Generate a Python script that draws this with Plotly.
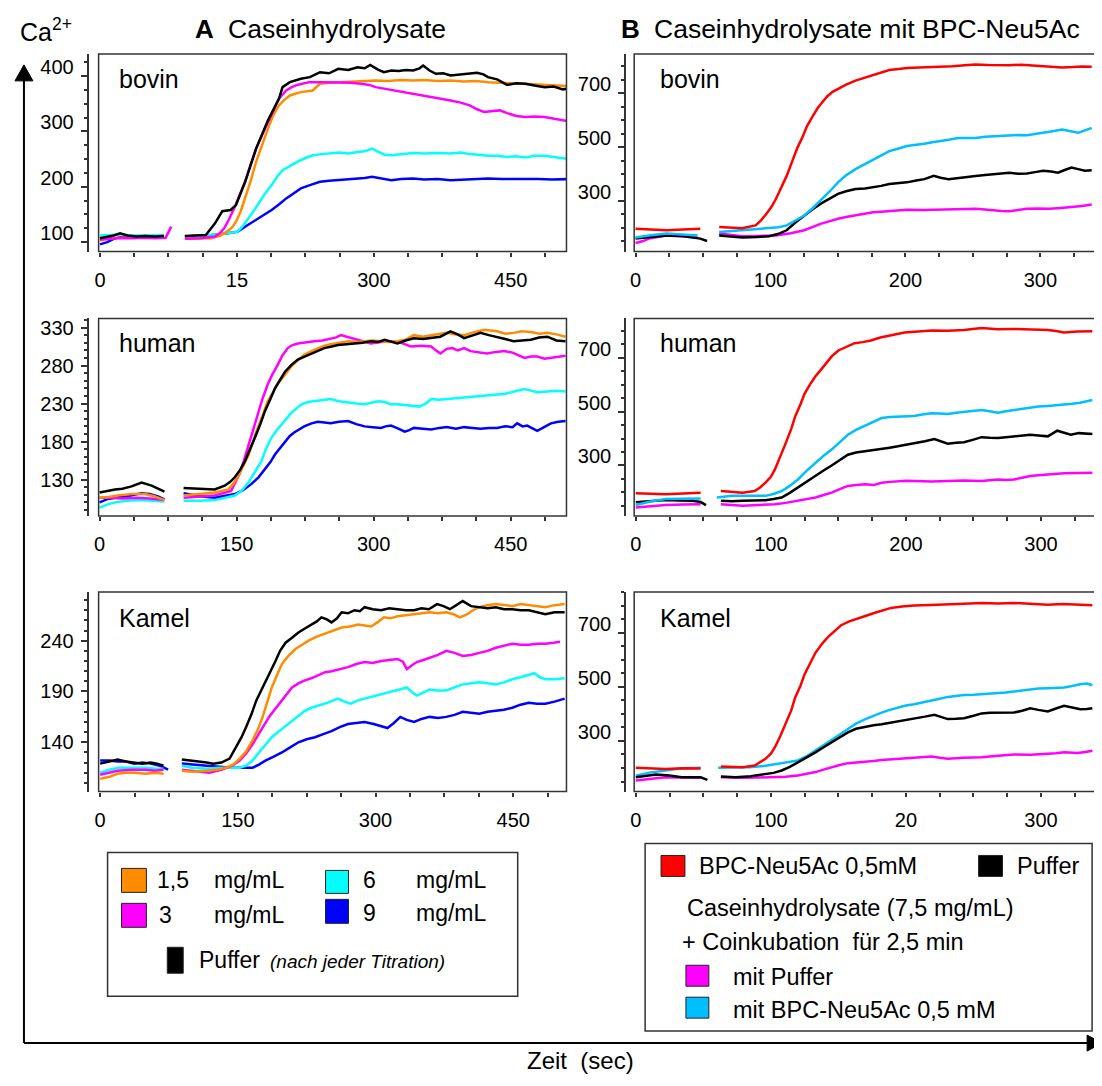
import plotly.graph_objects as go

W, H = 1102, 1086
OX, OY = 8, 8  # page body margin compensation
FONT = "Liberation Sans, Arial, Helvetica, sans-serif"

# ---------------- colours ----------------
ORANGE = "#FF8C00"
MAGENTA = "#FF00FF"
CYAN = "#00FFFF"
BLUE = "#0000FF"
BLACK = "#000000"
RED = "#FF0000"
SKY = "#00BFFF"

# ---------------- tick labels ----------------
A_XTICKS = [0, 150, 300, 450]
A_XTEXT_BOV = ["0", "15", "300", "450"]
A_XTEXT = ["0", "150", "300", "450"]
B_XTICKS = [0, 100, 200, 300]
B_XTEXT = ["0", "100", "200", "300"]
B_XTEXT_KAM = ["0", "100", "20", "300"]
A_BOV_YTICKS = [100, 200, 300, 400]
A_HUM_YTICKS = [130, 180, 230, 280, 330]
A_KAM_YTICKS = [140, 190, 240]
B_YTICKS = [300, 500, 700]

# ================= Panel A bovin =================
A_BOV_BLK_T1 = [0, 8, 15, 22, 30, 40, 50, 60, 70]
A_BOV_BLK_V1 = [107, 109, 112, 116, 112, 110, 111, 110, 111]
A_BOV_BLK_T2 = [93, 105, 116, 126, 134, 143, 149, 159, 171, 184, 196, 200, 208, 220, 230, 241, 251, 261, 272, 282,
                290, 296, 304, 311, 319, 327, 335, 343, 350, 354, 361, 368, 376, 384, 395, 405, 413, 420, 425, 435,
                446, 456, 466, 476, 487, 497, 507, 515]
A_BOV_BLK_V2 = [111, 112, 113, 134, 156, 158, 167, 209, 269, 320, 359, 380, 389, 395, 398, 407, 405, 413, 411, 416,
                414, 420, 412, 407, 410, 409, 411, 410, 414, 419, 410, 404, 405, 401, 403, 404, 406, 403, 398, 394,
                384, 387, 386, 383, 380, 381, 376, 378]
A_BOV_BLU_T1 = [0, 8, 15, 22, 35, 50, 60, 70]
A_BOV_BLU_V1 = [96, 100, 106, 109, 110, 109, 110, 111]
A_BOV_BLU_T2 = [93, 110, 122, 140, 151, 161, 171, 180, 188, 196, 204, 212, 220, 230, 241, 251, 261, 272, 282, 290,
                298, 305, 312, 319, 330, 343, 355, 370, 384, 398, 412, 425, 440, 455, 466, 480, 495, 505, 515]
A_BOV_BLU_V2 = [110, 111, 113, 116, 119, 130, 140, 149, 158, 168, 179, 188, 197, 203, 209, 211, 212, 213, 215, 216,
                218, 216, 213, 212, 214, 215, 213, 214, 212, 213, 214, 215, 214, 214, 215, 214, 213, 214, 214]
A_BOV_CYN_T1 = [0, 10, 22, 35, 50, 60, 70]
A_BOV_CYN_V1 = [112, 113, 114, 112, 112, 113, 113]
A_BOV_CYN_T2 = [93, 110, 122, 140, 151, 157, 163, 169, 175, 181, 188, 194, 200, 208, 216, 225, 233, 243, 253, 262,
                272, 282, 290, 298, 305, 312, 319, 330, 343, 355, 370, 384, 395, 405, 415, 425, 435, 446, 456, 466,
                476, 487, 497, 507, 515]
A_BOV_CYN_V2 = [110, 111, 113, 116, 119, 130, 143, 158, 173, 188, 203, 218, 230, 238, 245, 252, 257, 259, 261, 262,
                260, 263, 264, 269, 263, 258, 257, 259, 261, 260, 261, 260, 262, 259, 257, 256, 256, 254, 255, 253,
                256, 256, 254, 252, 250]
A_BOV_MAG_T1 = [0, 10, 20, 35, 50, 60, 70, 72, 78]
A_BOV_MAG_V1 = [105, 106, 107, 107, 108, 107, 108, 108, 128]
A_BOV_MAG_T2 = [93, 110, 126, 131, 136, 141, 147, 153, 159, 165, 171, 178, 184, 190, 196, 204, 210, 216, 229, 245,
                261, 275, 286, 295, 302, 312, 323, 333, 343, 353, 364, 374, 384, 395, 405, 413, 421, 430, 438, 446,
                456, 466, 476, 487, 497, 507, 515]
A_BOV_MAG_V2 = [106, 107, 110, 116, 125, 140, 161, 185, 209, 240, 269, 295, 317, 340, 359, 374, 380, 384, 389, 389,
                389, 388, 386, 384, 380, 377, 374, 372, 368, 365, 362, 359, 356, 352, 347, 340, 335, 337, 338, 333,
                328, 326, 327, 326, 323, 320, 318]
A_BOV_ORG_T1 = [0, 10, 22, 35, 50, 70]
A_BOV_ORG_V1 = [103, 107, 108, 108, 109, 109]
A_BOV_ORG_T2 = [93, 110, 122, 132, 139, 145, 149, 154, 159, 165, 171, 178, 184, 190, 196, 202, 208, 214, 220, 233,
                241, 251, 261, 272, 282, 292, 302, 315, 330, 343, 355, 370, 384, 398, 412, 425, 440, 455, 466, 480,
                495, 505, 515]
A_BOV_ORG_V2 = [106, 106, 107, 112, 119, 127, 137, 155, 179, 210, 245, 278, 305, 330, 347, 357, 365, 368, 371, 374,
                386, 388, 389, 390, 390, 391, 392, 391, 393, 392, 393, 391, 392, 390, 391, 389, 388, 387, 386, 385,
                384, 383, 382]

# ================= Panel A human =================
A_HUM_BLK_T1 = [0, 8, 17, 25, 35, 46, 52, 57, 64, 71]
A_HUM_BLK_V1 = [113, 115, 117, 118, 121, 126, 124, 122, 118, 114]
A_HUM_BLK_T2 = [92, 110, 126, 137, 143, 148, 154, 159, 165, 170, 176, 181, 187, 192, 198, 203, 210, 217, 225, 232,
                239, 246, 254, 261, 270, 279, 288, 297, 305, 312, 319, 326, 335, 344, 354, 363, 373, 384, 392, 399,
                408, 417, 426, 435, 444, 453, 462, 472, 481, 490, 500, 510]
A_HUM_BLK_V2 = [119, 118, 117, 122, 127, 133, 143, 154, 170, 185, 203, 220, 236, 250, 262, 272, 281, 288, 292, 296,
                300, 303, 305, 307, 308, 309, 310, 312, 311, 314, 312, 309, 313, 316, 315, 316, 318, 325, 321, 316,
                320, 323, 320, 318, 315, 312, 313, 314, 317, 318, 313, 312]
A_HUM_ORG_T1 = [0, 10, 20, 35, 50, 60, 71]
A_HUM_ORG_V1 = [106, 107, 109, 111, 111, 108, 103]
A_HUM_ORG_T2 = [92, 110, 126, 141, 146, 152, 157, 163, 168, 173, 179, 184, 190, 195, 203, 210, 217, 224, 232, 239,
                246, 253, 262, 272, 281, 290, 299, 308, 317, 326, 335, 344, 354, 363, 372, 380, 390, 399, 410, 421,
                428, 435, 444, 453, 462, 472, 481, 490, 500, 510]
A_HUM_ORG_V2 = [109, 111, 113, 117, 124, 135, 148, 162, 180, 198, 216, 233, 245, 256, 268, 279, 287, 294, 299, 303,
                306, 308, 310, 312, 311, 312, 313, 312, 311, 312, 314, 320, 318, 320, 322, 323, 321, 320, 324, 327,
                326, 325, 322, 323, 325, 324, 322, 323, 321, 318]
A_HUM_MAG_T1 = [0, 10, 25, 40, 55, 71]
A_HUM_MAG_V1 = [106, 106, 105, 106, 105, 103]
A_HUM_MAG_T2 = [92, 110, 126, 144, 148, 153, 158, 163, 168, 173, 178, 184, 189, 195, 200, 206, 211, 217, 226, 235,
                244, 253, 259, 264, 270, 279, 288, 297, 308, 319, 330, 341, 352, 363, 368, 373, 380, 386, 392, 399,
                406, 415, 424, 434, 443, 452, 460, 465, 472, 479, 487, 494, 502, 510]
A_HUM_MAG_V2 = [106, 108, 109, 115, 124, 137, 155, 175, 195, 215, 235, 255, 268, 281, 293, 303, 307, 309, 311, 312,
                313, 315, 317, 320, 318, 314, 311, 309, 311, 312, 310, 305, 306, 305, 300, 296, 302, 303, 300, 303,
                299, 297, 296, 298, 299, 297, 293, 290, 292, 292, 289, 290, 292, 293]
A_HUM_CYN_T1 = [0, 8, 17, 30, 45, 60, 71]
A_HUM_CYN_V1 = [93, 97, 100, 102, 103, 102, 101]
A_HUM_CYN_T2 = [92, 110, 126, 148, 156, 163, 170, 177, 182, 188, 194, 199, 205, 210, 216, 221, 228, 235, 244, 253,
                262, 272, 281, 290, 299, 305, 312, 319, 326, 335, 344, 350, 357, 363, 372, 380, 390, 399, 408, 417,
                426, 435, 444, 456, 465, 472, 479, 490, 500, 510]
A_HUM_CYN_V2 = [102, 102, 103, 109, 116, 126, 140, 154, 170, 185, 195, 202, 210, 218, 224, 229, 232, 233, 235, 236,
                233, 231, 230, 229, 231, 233, 232, 229, 229, 228, 227, 226, 230, 236, 235, 236, 237, 238, 239, 240,
                241, 242, 243, 246, 249, 247, 245, 246, 247, 246]
A_HUM_BLU_T1 = [0, 8, 17, 30, 46, 55, 64, 71]
A_HUM_BLU_V1 = [100, 104, 106, 108, 112, 111, 108, 104]
A_HUM_BLU_T2 = [92, 110, 126, 148, 157, 166, 174, 181, 187, 192, 198, 203, 208, 213, 219, 224, 232, 239, 246, 253,
                262, 272, 281, 290, 299, 308, 313, 319, 327, 334, 339, 344, 354, 363, 372, 380, 390, 399, 408, 417,
                426, 435, 444, 452, 457, 463, 468, 474, 479, 485, 494, 502, 510]
A_HUM_BLU_V2 = [112, 108, 106, 111, 116, 124, 133, 143, 153, 163, 172, 181, 187, 192, 196, 200, 204, 206, 205, 204,
                206, 207, 203, 200, 199, 198, 200, 201, 197, 193, 195, 198, 197, 196, 198, 199, 197, 199, 198, 197,
                198, 198, 200, 199, 204, 200, 201, 197, 194, 198, 204, 206, 207]

# ================= Panel A Kamel =================
A_KAM_BLK_T1 = [0, 8, 19, 28, 37, 46, 55, 62, 69]
A_KAM_BLK_V1 = [119, 121, 123, 121, 120, 119, 120, 119, 117]
A_KAM_BLK_T2 = [89, 100, 109, 116, 123, 132, 141, 148, 154, 159, 165, 170, 175, 180, 186, 191, 196, 202, 209, 216,
                223, 230, 236, 241, 247, 252, 258, 263, 270, 277, 283, 288, 297, 306, 315, 324, 333, 342, 350, 358,
                367, 374, 381, 388, 395, 404, 413, 422, 431, 440, 449, 458, 467, 476, 485, 495, 506]
A_KAM_BLK_V2 = [123, 122, 121, 120, 119, 120, 124, 135, 145, 155, 168, 181, 190, 199, 210, 220, 230, 238, 243, 248,
                252, 256, 259, 263, 261, 258, 262, 268, 267, 270, 269, 273, 271, 270, 272, 271, 270, 270, 272, 271,
                276, 274, 271, 275, 279, 274, 273, 272, 273, 271, 271, 270, 270, 268, 266, 268, 268]
A_KAM_BLU_T1 = [0, 10, 19, 28, 37, 46, 55, 65, 74]
A_KAM_BLU_V1 = [122, 122, 121, 121, 119, 120, 119, 117, 113]
A_KAM_BLU_T2 = [89, 100, 116, 130, 144, 155, 166, 173, 180, 189, 198, 207, 216, 225, 234, 243, 252, 261, 270, 279,
                288, 298, 306, 313, 320, 327, 334, 342, 350, 359, 368, 377, 386, 395, 404, 413, 422, 431, 440, 449,
                458, 467, 476, 485, 495, 506]
A_KAM_BLU_V2 = [119, 118, 117, 116, 115, 115, 115, 118, 122, 126, 130, 135, 140, 143, 145, 148, 151, 155, 158, 159,
                160, 158, 156, 154, 159, 165, 162, 160, 163, 165, 164, 165, 167, 170, 169, 168, 170, 171, 172, 174,
                177, 179, 178, 178, 180, 183]
A_KAM_CYN_T1 = [0, 10, 20, 35, 50, 60, 69]
A_KAM_CYN_V1 = [110, 113, 115, 115, 115, 114, 114]
A_KAM_CYN_T2 = [89, 100, 116, 130, 145, 152, 159, 166, 173, 180, 187, 195, 202, 209, 216, 223, 230, 238, 248, 259,
                266, 273, 280, 288, 297, 306, 315, 324, 330, 334, 340, 345, 352, 359, 368, 377, 386, 395, 404, 413,
                422, 431, 440, 449, 458, 467, 473, 479, 485, 495, 506]
A_KAM_CYN_V2 = [117, 115, 114, 115, 115, 115, 117, 122, 130, 138, 145, 151, 156, 161, 166, 171, 174, 176, 179, 183,
                180, 178, 181, 183, 185, 187, 189, 191, 193, 194, 189, 186, 189, 192, 191, 191, 194, 197, 198, 199,
                198, 197, 199, 202, 204, 206, 208, 204, 202, 202, 203]
A_KAM_MAG_T1 = [0, 10, 19, 35, 50, 60, 69]
A_KAM_MAG_V1 = [108, 110, 112, 113, 113, 112, 113]
A_KAM_MAG_T2 = [89, 100, 108, 119, 132, 144, 152, 159, 166, 173, 179, 184, 190, 195, 202, 209, 216, 223, 230, 238,
                245, 252, 261, 270, 279, 288, 297, 306, 315, 324, 330, 334, 340, 345, 352, 359, 368, 377, 386, 395,
                404, 413, 422, 431, 440, 449, 458, 467, 476, 485, 494, 501]
A_KAM_MAG_V2 = [113, 112, 111, 110, 113, 117, 122, 129, 138, 148, 157, 165, 172, 178, 186, 194, 198, 201, 203, 206,
                209, 210, 212, 214, 217, 219, 218, 220, 221, 222, 219, 212, 216, 219, 221, 223, 226, 230, 228, 225,
                226, 228, 230, 233, 235, 237, 236, 236, 237, 237, 238, 239]
A_KAM_ORG_T1 = [0, 10, 19, 28, 37, 50, 60, 69]
A_KAM_ORG_V1 = [104, 106, 109, 110, 110, 109, 110, 109]
A_KAM_ORG_T2 = [89, 100, 116, 127, 137, 145, 152, 159, 166, 172, 177, 182, 187, 193, 198, 205, 213, 220, 227, 236,
                245, 254, 263, 272, 281, 288, 295, 302, 309, 316, 324, 333, 342, 350, 359, 368, 377, 385, 392, 400,
                406, 413, 422, 431, 440, 449, 458, 467, 476, 485, 495, 506]
A_KAM_ORG_V2 = [112, 111, 112, 113, 115, 118, 124, 131, 142, 153, 165, 180, 194, 207, 217, 225, 232, 236, 240, 244,
                247, 250, 253, 254, 256, 255, 254, 258, 263, 262, 264, 265, 266, 267, 268, 267, 268, 266, 263, 266,
                270, 273, 275, 276, 275, 274, 276, 275, 274, 273, 275, 276]

# ================= Panel B bovin =================
B_BOV_RED_T1 = [0, 10, 23, 35, 48]
B_BOV_RED_V1 = [197, 194, 191, 194, 197]
B_BOV_RED_T2 = [62, 70, 79, 89, 93, 97, 101, 104, 108, 112, 116, 120, 124, 127, 131, 135, 139, 142, 146, 150,
                156, 163, 170, 176, 182, 188, 195, 201, 210, 218, 226, 235, 244, 252, 261, 270, 277, 286, 294, 302,
                309, 316, 324, 331, 338]
B_BOV_RED_V2 = [203, 201, 199, 209, 228, 252, 280, 307, 350, 393, 446, 498, 540, 577, 612, 645, 670, 688, 705, 716,
                732, 747, 758, 767, 777, 786, 790, 794, 796, 797, 798, 800, 804, 807, 805, 803, 804, 806, 803, 802,
                799, 796, 797, 799, 798]
B_BOV_CYN_T1 = [0, 10, 23, 35, 46]
B_BOV_CYN_V1 = [164, 172, 179, 176, 172]
B_BOV_CYN_T2 = [62, 70, 79, 90, 99, 106, 112, 118, 125, 131, 137, 144, 150, 156, 163, 170, 176, 182, 188, 195,
                201, 208, 214, 220, 226, 233, 239, 246, 252, 259, 265, 271, 277, 284, 290, 296, 302, 309, 316, 322,
                328, 333, 338]
B_BOV_CYN_V2 = [185, 188, 191, 194, 197, 202, 209, 225, 246, 272, 301, 336, 369, 395, 418, 437, 455, 471, 485, 495,
                504, 509, 512, 518, 522, 528, 534, 533, 534, 538, 540, 541, 543, 545, 544, 548, 553, 559, 565, 560,
                553, 562, 571]
B_BOV_BLK_T1 = [0, 10, 23, 35, 43, 48, 53]
B_BOV_BLK_V1 = [160, 164, 172, 170, 164, 160, 151]
B_BOV_BLK_T2 = [62, 70, 79, 90, 99, 106, 112, 118, 125, 131, 137, 144, 150, 156, 163, 170, 176, 182, 188, 195,
                201, 208, 214, 221, 226, 232, 239, 246, 252, 259, 265, 271, 277, 284, 290, 296, 302, 308, 313, 318,
                323, 328, 333, 338]
B_BOV_BLK_V2 = [172, 168, 164, 166, 169, 178, 191, 218, 246, 268, 289, 308, 326, 336, 344, 346, 350, 356, 363, 366,
                369, 376, 381, 393, 386, 381, 386, 390, 393, 396, 399, 402, 405, 401, 402, 407, 412, 409, 405, 415,
                424, 418, 412, 414]
B_BOV_MAG_T1 = [0, 5, 10, 23, 35, 46]
B_BOV_MAG_V1 = [144, 150, 160, 172, 168, 164]
B_BOV_MAG_T2 = [62, 70, 79, 92, 104, 115, 125, 131, 137, 144, 150, 156, 163, 170, 176, 182, 188, 195, 201, 214,
                226, 239, 252, 259, 265, 271, 277, 284, 290, 298, 307, 315, 323, 331, 338]
B_BOV_MAG_V2 = [179, 174, 169, 170, 172, 180, 191, 203, 215, 225, 234, 240, 246, 252, 258, 260, 262, 265, 267, 266,
                267, 269, 271, 268, 265, 263, 262, 267, 271, 272, 271, 274, 277, 281, 287]

# ================= Panel B human =================
B_HUM_RED_T1 = [0, 10, 22, 35, 48]
B_HUM_RED_V1 = [197, 195, 193, 196, 199]
B_HUM_RED_T2 = [63, 71, 79, 88, 92, 96, 100, 103, 107, 111, 115, 118, 122, 125, 129, 133, 137, 140, 145, 150,
                156, 162, 168, 174, 181, 187, 193, 199, 209, 219, 231, 243, 256, 268, 280, 292, 305, 311, 317, 327,
                338]
B_HUM_RED_V2 = [205, 201, 199, 205, 218, 236, 258, 285, 332, 383, 435, 482, 528, 567, 601, 631, 655, 675, 705, 727,
                742, 754, 758, 764, 775, 782, 789, 794, 797, 801, 800, 803, 810, 806, 807, 805, 803, 799, 794, 797,
                798]
B_HUM_CYN_T1 = [0, 10, 22, 35, 48]
B_HUM_CYN_V1 = [153, 165, 175, 176, 177]
B_HUM_CYN_T2 = [60, 71, 84, 96, 102, 108, 114, 120, 126, 133, 139, 145, 151, 157, 163, 170, 176, 182, 188, 194,
                200, 206, 212, 219, 225, 231, 237, 243, 250, 256, 262, 268, 274, 280, 286, 292, 298, 305, 311, 317,
                323, 329, 334, 338]
B_HUM_CYN_V2 = [181, 187, 187, 187, 194, 205, 224, 248, 278, 310, 336, 359, 387, 414, 432, 448, 463, 476, 480, 482,
                483, 484, 489, 494, 493, 491, 496, 500, 503, 506, 501, 496, 501, 506, 511, 516, 519, 521, 523, 525,
                529, 533, 538, 543]
B_HUM_BLK_T1 = [0, 10, 22, 32, 42, 48, 52]
B_HUM_BLK_V1 = [163, 168, 172, 170, 169, 164, 153]
B_HUM_BLK_T2 = [63, 71, 79, 88, 96, 102, 108, 114, 120, 126, 133, 139, 145, 151, 157, 163, 170, 176, 182, 188,
                194, 200, 206, 214, 221, 226, 231, 237, 243, 250, 256, 262, 268, 274, 280, 286, 292, 298, 305, 312,
                317, 322, 328, 333, 338]
B_HUM_BLK_V2 = [169, 167, 169, 170, 171, 175, 181, 198, 218, 240, 261, 281, 300, 320, 340, 348, 353, 356, 359, 366,
                371, 376, 381, 390, 398, 389, 381, 384, 386, 396, 405, 403, 402, 405, 408, 411, 414, 411, 408, 429,
                421, 414, 420, 418, 417]
B_HUM_MAG_T1 = [0, 10, 22, 35, 48]
B_HUM_MAG_V1 = [144, 149, 153, 155, 156]
B_HUM_MAG_T2 = [63, 71, 79, 91, 103, 111, 120, 127, 133, 139, 145, 151, 157, 163, 170, 176, 182, 188, 194, 200,
                206, 219, 231, 243, 256, 262, 268, 274, 280, 286, 292, 298, 305, 311, 317, 327, 338]
B_HUM_MAG_V2 = [156, 153, 150, 153, 156, 161, 169, 175, 181, 190, 199, 212, 224, 227, 230, 227, 236, 239, 242, 243,
                242, 240, 242, 244, 242, 245, 248, 246, 248, 254, 261, 264, 267, 270, 271, 272, 273]

# ================= Panel B Kamel =================
B_KAM_RED_T1 = [0, 10, 22, 35, 48]
B_KAM_RED_V1 = [201, 198, 196, 199, 198]
B_KAM_RED_T2 = [63, 71, 79, 88, 92, 96, 100, 103, 107, 111, 115, 118, 122, 125, 129, 133, 138, 143, 148, 152,
                158, 165, 171, 177, 183, 189, 197, 206, 218, 231, 243, 256, 268, 280, 292, 305, 316, 327, 338]
B_KAM_RED_V2 = [206, 204, 203, 209, 220, 234, 253, 277, 318, 362, 412, 461, 505, 547, 588, 626, 660, 688, 710, 728,
                742, 755, 764, 774, 783, 792, 797, 801, 803, 804, 807, 810, 808, 810, 807, 804, 806, 803, 802]
B_KAM_CYN_T1 = [0, 10, 22, 34, 48]
B_KAM_CYN_V1 = [172, 183, 191, 199, 201]
B_KAM_CYN_T2 = [61, 72, 84, 96, 108, 114, 120, 127, 133, 139, 145, 151, 157, 163, 170, 176, 182, 188, 194, 200,
                206, 212, 219, 225, 231, 237, 243, 250, 256, 262, 268, 274, 280, 286, 292, 298, 305, 311, 317, 323,
                329, 334, 338]
B_KAM_CYN_V2 = [201, 202, 203, 208, 218, 222, 228, 245, 264, 284, 304, 324, 344, 364, 381, 394, 405, 415, 424, 431,
                436, 442, 448, 456, 463, 467, 470, 471, 473, 475, 476, 479, 483, 487, 491, 494, 495, 497, 498, 503,
                510, 512, 506]
B_KAM_BLK_T1 = [0, 8, 15, 25, 34, 44, 48, 53]
B_KAM_BLK_V1 = [166, 171, 176, 172, 166, 166, 166, 156]
B_KAM_BLK_T2 = [63, 74, 85, 96, 102, 108, 114, 120, 127, 133, 139, 145, 151, 157, 163, 170, 176, 182, 188, 194,
                200, 206, 214, 221, 226, 231, 237, 243, 250, 256, 262, 268, 274, 280, 286, 292, 298, 305, 311, 317,
                323, 329, 334, 338]
B_KAM_BLK_V2 = [169, 166, 170, 176, 182, 191, 204, 221, 240, 258, 277, 295, 314, 332, 345, 353, 358, 362, 367, 372,
                377, 381, 390, 397, 388, 381, 382, 384, 393, 402, 404, 405, 404, 405, 412, 421, 415, 409, 420, 430,
                424, 417, 418, 421]
B_KAM_MAG_T1 = [0, 10, 22, 35, 48]
B_KAM_MAG_V1 = [154, 160, 166, 165, 164]
B_KAM_MAG_T2 = [63, 71, 79, 91, 103, 111, 120, 127, 133, 139, 145, 151, 157, 163, 170, 176, 182, 188, 194, 200,
                206, 212, 219, 225, 231, 243, 256, 268, 280, 292, 305, 311, 317, 327, 333, 338]
B_KAM_MAG_V2 = [166, 164, 164, 165, 166, 168, 172, 178, 185, 194, 203, 211, 218, 220, 222, 226, 230, 232, 234, 237,
                240, 242, 243, 238, 234, 238, 240, 245, 250, 249, 252, 255, 258, 256, 259, 264]


# ---------------- helpers ----------------
def px(x):
    return (x - OX) / W


def py(y):
    return 1 - (y - OY) / H


def seg(t1, v1, t2, v2):
    n1 = min(len(t1), len(v1))
    n2 = min(len(t2), len(v2))
    return list(t1[:n1]) + [None] + list(t2[:n2]), list(v1[:n1]) + [None] + list(v2[:n2])


A_BOX_X = (94, 564)
A_YLINE = 83
B_BOX_X = (632, 1095)
B_YLINE = 623
ROWS = [(52, 250), (317, 515), (591, 791)]

panels = [
    dict(col="A", row=0, xr=[-1.5, 511], yr=[83, 440], xt=A_XTICKS, xtx=A_XTEXT_BOV, yt=A_BOV_YTICKS, ym=25, ys=-9,
         xm=37.5,
         series=[(A_BOV_BLU_T1, A_BOV_BLU_V1, A_BOV_BLU_T2, A_BOV_BLU_V2, BLUE),
                 (A_BOV_CYN_T1, A_BOV_CYN_V1, A_BOV_CYN_T2, A_BOV_CYN_V2, CYAN),
                 (A_BOV_ORG_T1, A_BOV_ORG_V1, A_BOV_ORG_T2, A_BOV_ORG_V2, ORANGE),
                 (A_BOV_MAG_T1, A_BOV_MAG_V1, A_BOV_MAG_T2, A_BOV_MAG_V2, MAGENTA),
                 (A_BOV_BLK_T1, A_BOV_BLK_V1, A_BOV_BLK_T2, A_BOV_BLK_V2, BLACK)]),
    dict(col="A", row=1, xr=[-1, 511], yr=[82, 342], xt=A_XTICKS, xtx=A_XTEXT, yt=A_HUM_YTICKS, ym=10, ys=0,
         xm=37.5,
         series=[(A_HUM_BLU_T1, A_HUM_BLU_V1, A_HUM_BLU_T2, A_HUM_BLU_V2, BLUE),
                 (A_HUM_CYN_T1, A_HUM_CYN_V1, A_HUM_CYN_T2, A_HUM_CYN_V2, CYAN),
                 (A_HUM_MAG_T1, A_HUM_MAG_V1, A_HUM_MAG_T2, A_HUM_MAG_V2, MAGENTA),
                 (A_HUM_ORG_T1, A_HUM_ORG_V1, A_HUM_ORG_T2, A_HUM_ORG_V2, ORANGE),
                 (A_HUM_BLK_T1, A_HUM_BLK_V1, A_HUM_BLK_T2, A_HUM_BLK_V2, BLACK)]),
    dict(col="A", row=2, xr=[-1.7, 508], yr=[91.5, 288], xt=A_XTICKS, xtx=A_XTEXT, yt=A_KAM_YTICKS, ym=10, ys=0,
         xm=37.5,
         series=[(A_KAM_BLU_T1, A_KAM_BLU_V1, A_KAM_BLU_T2, A_KAM_BLU_V2, BLUE),
                 (A_KAM_CYN_T1, A_KAM_CYN_V1, A_KAM_CYN_T2, A_KAM_CYN_V2, CYAN),
                 (A_KAM_MAG_T1, A_KAM_MAG_V1, A_KAM_MAG_T2, A_KAM_MAG_V2, MAGENTA),
                 (A_KAM_ORG_T1, A_KAM_ORG_V1, A_KAM_ORG_T2, A_KAM_ORG_V2, ORANGE),
                 (A_KAM_BLK_T1, A_KAM_BLK_V1, A_KAM_BLK_T2, A_KAM_BLK_V2, BLACK)]),
    dict(col="B", row=0, xr=[-1, 340.5], yr=[112, 846], xt=B_XTICKS, xtx=B_XTEXT, yt=B_YTICKS, ym=50, ys=-9,
         xm=25,
         series=[(B_BOV_MAG_T1, B_BOV_MAG_V1, B_BOV_MAG_T2, B_BOV_MAG_V2, MAGENTA),
                 (B_BOV_BLK_T1, B_BOV_BLK_V1, B_BOV_BLK_T2, B_BOV_BLK_V2, BLACK),
                 (B_BOV_CYN_T1, B_BOV_CYN_V1, B_BOV_CYN_T2, B_BOV_CYN_V2, SKY),
                 (B_BOV_RED_T1, B_BOV_RED_V1, B_BOV_RED_T2, B_BOV_RED_V2, RED)]),
    dict(col="B", row=1, xr=[-1.2, 340], yr=[112, 846], xt=B_XTICKS, xtx=B_XTEXT, yt=B_YTICKS, ym=50, ys=-9,
         xm=25,
         series=[(B_HUM_MAG_T1, B_HUM_MAG_V1, B_HUM_MAG_T2, B_HUM_MAG_V2, MAGENTA),
                 (B_HUM_BLK_T1, B_HUM_BLK_V1, B_HUM_BLK_T2, B_HUM_BLK_V2, BLACK),
                 (B_HUM_CYN_T1, B_HUM_CYN_V1, B_HUM_CYN_T2, B_HUM_CYN_V2, SKY),
                 (B_HUM_RED_T1, B_HUM_RED_V1, B_HUM_RED_T2, B_HUM_RED_V2, RED)]),
    dict(col="B", row=2, xr=[-1.2, 340], yr=[113, 851], xt=B_XTICKS, xtx=B_XTEXT_KAM, yt=B_YTICKS, ym=50, ys=-9,
         xm=25,
         series=[(B_KAM_MAG_T1, B_KAM_MAG_V1, B_KAM_MAG_T2, B_KAM_MAG_V2, MAGENTA),
                 (B_KAM_CYN_T1, B_KAM_CYN_V1, B_KAM_CYN_T2, B_KAM_CYN_V2, SKY),
                 (B_KAM_BLK_T1, B_KAM_BLK_V1, B_KAM_BLK_T2, B_KAM_BLK_V2, BLACK),
                 (B_KAM_RED_T1, B_KAM_RED_V1, B_KAM_RED_T2, B_KAM_RED_V2, RED)]),
]

fig = go.Figure()
layout = {}
shapes = []
AXC = "#333333"

for i, p in enumerate(panels, start=1):
    xb = A_BOX_X if p["col"] == "A" else B_BOX_X
    yl = A_YLINE if p["col"] == "A" else B_YLINE
    top, bot = ROWS[p["row"]]
    xk = "xaxis" if i == 1 else f"xaxis{i}"
    yk = "yaxis" if i == 1 else f"yaxis{i}"
    xid = "x" if i == 1 else f"x{i}"
    yid = "y" if i == 1 else f"y{i}"
    layout[xk] = dict(
        domain=[px(xb[0]), px(xb[1])], range=p["xr"], anchor=yid,
        tickmode="array", tickvals=p["xt"], ticktext=p["xtx"],
        ticks="outside", ticklen=4, tickwidth=1.5, tickcolor=AXC,
        showline=False, showgrid=False, zeroline=False, fixedrange=True,
        tickfont=dict(size=20, color="black", family=FONT),
        ticklabelstandoff=6,
        minor=dict(tickmode="linear", tick0=0, dtick=p["xm"], ticks="outside", ticklen=4,
                   tickwidth=1.5, tickcolor=AXC, showgrid=False),
    )
    layout[yk] = dict(
        domain=[py(bot), py(top)], range=p["yr"], anchor="free", position=px(yl),
        tickmode="array", tickvals=p["yt"], ticktext=[str(v) for v in p["yt"]],
        ticks="outside", ticklen=6, tickwidth=1.5, tickcolor=AXC,
        showline=True, linecolor=AXC, linewidth=2,
        showgrid=False, zeroline=False, fixedrange=True,
        tickfont=dict(size=20, color="black", family=FONT),
        ticklabelshift=p["ys"], ticklabelstandoff=3,
        minor=dict(tickmode="linear", tick0=0, dtick=p["ym"], ticks="outside", ticklen=3,
                   tickwidth=1.5, tickcolor=AXC, showgrid=False),
    )
    for (t1, v1, t2, v2, col) in p["series"]:
        xs, ys = seg(t1, v1, t2, v2)
        fig.add_trace(go.Scatter(x=xs, y=ys, mode="lines", xaxis=xid, yaxis=yid,
                                 line=dict(color=col, width=2.5), showlegend=False,
                                 hoverinfo="skip"))
    shapes.append(dict(type="rect", xref=f"{xid} domain", yref=f"{yid} domain",
                       x0=0, x1=1, y0=0, y1=1, line=dict(color=AXC, width=1.5), layer="above"))

annotations = []


def ann(text, x, y, size, xanchor="left"):
    annotations.append(dict(text=text, x=px(x), y=py(y), xref="paper", yref="paper",
                            xanchor=xanchor, yanchor="middle", showarrow=False,
                            font=dict(size=size, color="black", family=FONT)))


# titles
ann("Ca<sup>2+</sup>", 13, 28, 25)
ann("<b>A</b>", 189, 27, 26)
ann("Caseinhydrolysate", 222, 27, 26.5)
ann("<b>B</b>", 617, 27, 26)
ann("Caseinhydrolysate mit BPC-Neu5Ac", 650, 27, 26.5)

# panel names
for name, y in [("bovin", 77), ("human", 342), ("Kamel", 617)]:
    ann(name, 112, y, 25)
    ann(name, 656, y, 25)

# legend A
shapes.append(dict(type="rect", xref="paper", yref="paper", x0=px(103), x1=px(515), y0=py(996), y1=py(852),
                   line=dict(color=AXC, width=1.5), fillcolor="white", layer="above"))


def square(x0, y0, x1, y1, col):
    shapes.append(dict(type="rect", xref="paper", yref="paper", x0=px(x0), x1=px(x1), y0=py(y1), y1=py(y0),
                       line=dict(color="#222222", width=1), fillcolor=col, layer="above"))


square(117, 868, 142, 892, ORANGE)
square(322, 870, 345, 893, CYAN)
square(117, 903, 142, 927, MAGENTA)
square(322, 899, 345, 923, BLUE)
square(163, 947, 179, 973, BLACK)
ann("1,5", 151, 880, 23)
ann("mg/mL", 208, 880, 23)
ann("6", 358, 880, 23)
ann("mg/mL", 411, 880, 23)
ann("3", 153, 915, 23)
ann("mg/mL", 208, 915, 23)
ann("9", 358, 913, 23)
ann("mg/mL", 411, 913, 23)
ann("Puffer", 193, 960, 23)
ann("<i>(nach jeder Titration)</i>", 264, 961, 19)

# legend B
shapes.append(dict(type="rect", xref="paper", yref="paper", x0=px(643), x1=px(1092), y0=py(1031), y1=py(843),
                   line=dict(color=AXC, width=1.5), fillcolor="white", layer="above"))
square(659, 855, 683, 876, RED)
square(978, 855, 1002, 876, BLACK)
square(684, 965, 707, 986, MAGENTA)
square(684, 997, 707, 1018, SKY)
ann("BPC-Neu5Ac 0,5mM", 695, 866, 23.5)
ann("Puffer", 1015, 866, 23.5)
ann("Caseinhydrolysate (7,5 mg/mL)", 683, 908, 23.5)
ann("+ Coinkubation&nbsp; für 2,5 min", 678, 942, 23.5)
ann("mit Puffer", 729, 977, 23.5)
ann("mit BPC-Neu5Ac 0,5 mM", 729, 1010, 23.5)

# outer axes arrows
shapes.append(dict(type="line", xref="paper", yref="paper", x0=px(19), x1=px(19), y0=py(1043), y1=py(76),
                   line=dict(color="black", width=2)))
shapes.append(dict(type="path", xref="paper", yref="paper",
                   path=f"M {px(19)} {py(63)} L {px(10)} {py(79)} L {px(28)} {py(79)} Z",
                   fillcolor="black", line=dict(color="black", width=1)))
shapes.append(dict(type="line", xref="paper", yref="paper", x0=px(19), x1=px(1090), y0=py(1043), y1=py(1043),
                   line=dict(color="black", width=2)))
shapes.append(dict(type="path", xref="paper", yref="paper",
                   path=f"M {px(1102)} {py(1043)} L {px(1087)} {py(1035)} L {px(1087)} {py(1051)} Z",
                   fillcolor="black", line=dict(color="black", width=1)))
ann("Zeit&nbsp; (sec)", 578, 1060, 24, xanchor="center")

fig.update_layout(
    width=W, height=H, margin=dict(l=0, r=0, t=0, b=0),
    paper_bgcolor="white", plot_bgcolor="white",
    font=dict(family=FONT, color="black"),
    shapes=shapes, annotations=annotations, showlegend=False,
    **layout,
)

fig.write_html("out.html")
